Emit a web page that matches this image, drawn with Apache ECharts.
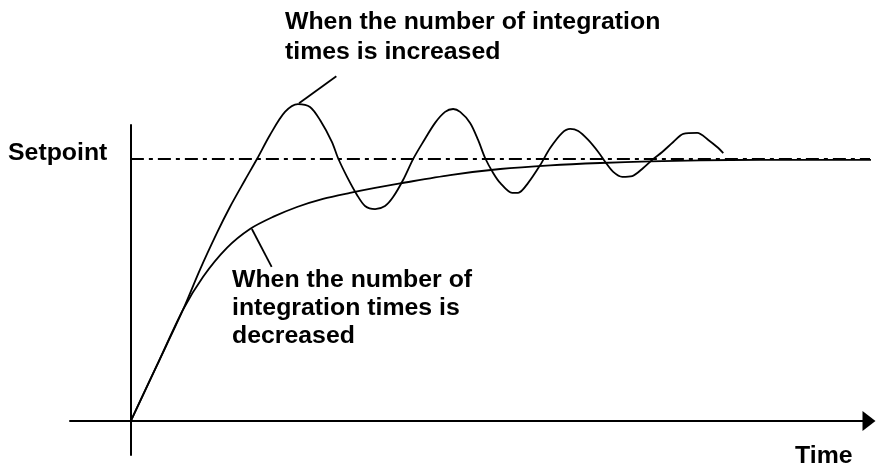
<!DOCTYPE html>
<html>
<head>
<meta charset="utf-8">
<title>PID integration time response</title>
<script src="https://cdn.jsdelivr.net/npm/echarts@6/dist/echarts.min.js"></script>
<style>
  html, body { margin: 0; padding: 0; background: #fff; }
  #chart { width: 876px; height: 465px; }
</style>
</head>
<body>
<div id="chart"></div>
<script>
// Setpoint level (process value units)
const setpoint = 100;

// Response with more integration (oscillating) : [time, value]
const increasedResponse = [
  [0, 0], [3.42, 21.2], [6.84, 42.4], [9.07, 57.7], [11.31, 71.8], [13.02, 81.7],
  [15.0, 92.0], [16.57, 100.0], [18.28, 109.2], [20.25, 118.0], [21.96, 121.0],
  [23.54, 119.9], [24.86, 114.9], [26.43, 106.5], [27.22, 100.4], [28.41, 93.2],
  [29.72, 86.3], [30.77, 82.1], [32.09, 80.9], [33.40, 82.1], [34.46, 85.5],
  [35.77, 92.0], [37.09, 100.0], [38.40, 106.5], [39.98, 113.8], [41.29, 118.0],
  [42.35, 119.1], [43.27, 118.0], [44.58, 113.8], [45.63, 107.3], [46.55, 100.4],
  [47.61, 94.7], [48.53, 90.9], [50.11, 87.1], [50.89, 87.1], [52.21, 90.9],
  [53.79, 97.7], [55.10, 104.2], [56.68, 110.0], [57.73, 111.5], [58.79, 110.7],
  [60.10, 107.3], [61.42, 102.7], [62.34, 98.9], [63.39, 95.1], [64.57, 93.2],
  [65.89, 93.5], [67.33, 96.6], [68.52, 99.7], [69.83, 102.7], [71.28, 106.5],
  [72.59, 109.6], [74.43, 110.0], [75.88, 107.3], [77.20, 104.2], [77.85, 102.3]
];

// Response with less integration (slow, no overshoot) : [time, value]
const decreasedResponse = [
  [0, 0], [3.42, 21.2], [6.84, 42.4], [9.47, 55.0], [12.62, 66.1], [15.65, 73.3],
  [18.67, 77.9], [21.83, 81.7], [25.25, 84.8], [28.80, 87.1], [32.09, 89.0],
  [35.38, 90.7], [41.95, 93.9], [48.53, 96.2], [55.10, 97.6], [61.68, 98.5],
  [68.25, 99.1], [74.83, 99.5], [82.72, 99.7], [97.45, 99.7]
];

// Callout leader lines : [time, value]
const increasedLeader = [[22.1, 121.3], [27.0, 131.6]];
const decreasedLeader = [[15.9, 73.3], [18.5, 58.8]];

// Axis extents
const timeRange = [-8, 97];
const valueRange = [-13, 113];
const setpointEnd = 97.8;

// Text
const setpointLabel = 'Setpoint';
const timeLabel = 'Time';
const increasedText = 'When the number of integration\ntimes is increased';
const decreasedText = 'When the number of\nintegration times is\ndecreased';

const FONT = 'Arial, "Liberation Sans", Helvetica, sans-serif';
const INK = '#000';

function labelText(text, x, y, lineHeight) {
  return {
    type: 'text',
    x: x, y: y,
    scaleX: 1.08,
    style: {
      text: text,
      x: 0, y: 0,
      fill: INK,
      fontFamily: FONT,
      fontWeight: 'bold',
      fontSize: 23,
      lineHeight: lineHeight || 29,
      textAlign: 'left',
      textVerticalAlign: 'top'
    }
  };
}

const chart = echarts.init(document.getElementById('chart'), null, { renderer: 'canvas' });

const curveStyle = { color: INK, width: 1.8 };

chart.setOption({
  animation: false,
  backgroundColor: '#fff',
  grid: { left: 70, right: 7, top: 125, bottom: 10, containLabel: false },
  xAxis: {
    type: 'value',
    min: timeRange[0], max: timeRange[1],
    axisLine: {
      show: true, onZero: true,
      symbol: ['none', 'triangle'], symbolSize: [20, 13],
      lineStyle: { color: INK, width: 2 }
    },
    axisTick: { show: false }, axisLabel: { show: false }, splitLine: { show: false }
  },
  yAxis: {
    type: 'value',
    min: valueRange[0], max: valueRange[1],
    axisLine: { show: true, onZero: true, lineStyle: { color: INK, width: 2 } },
    axisTick: { show: false }, axisLabel: { show: false }, splitLine: { show: false }
  },
  series: [
    {
      name: 'Setpoint', type: 'line', clip: false, symbol: 'none', silent: true,
      data: [[0, setpoint], [setpointEnd, setpoint]],
      lineStyle: { color: INK, width: 2, type: [13, 5, 4, 5] }
    },
    {
      name: 'Increased', type: 'line', clip: false, symbol: 'none', smooth: 0.3,
      data: increasedResponse, lineStyle: curveStyle
    },
    {
      name: 'Decreased', type: 'line', clip: false, symbol: 'none', smooth: 0.3,
      data: decreasedResponse, lineStyle: curveStyle
    },
    {
      name: 'Increased leader', type: 'line', clip: false, symbol: 'none',
      data: increasedLeader, lineStyle: curveStyle
    },
    {
      name: 'Decreased leader', type: 'line', clip: false, symbol: 'none',
      data: decreasedLeader, lineStyle: curveStyle
    }
  ],
  graphic: [
    labelText(setpointLabel, 8, 139),
    labelText(timeLabel, 795, 442),
    labelText(increasedText, 285, 8, 30),
    labelText(decreasedText, 232, 267, 28)
  ]
});
</script>
</body>
</html>
